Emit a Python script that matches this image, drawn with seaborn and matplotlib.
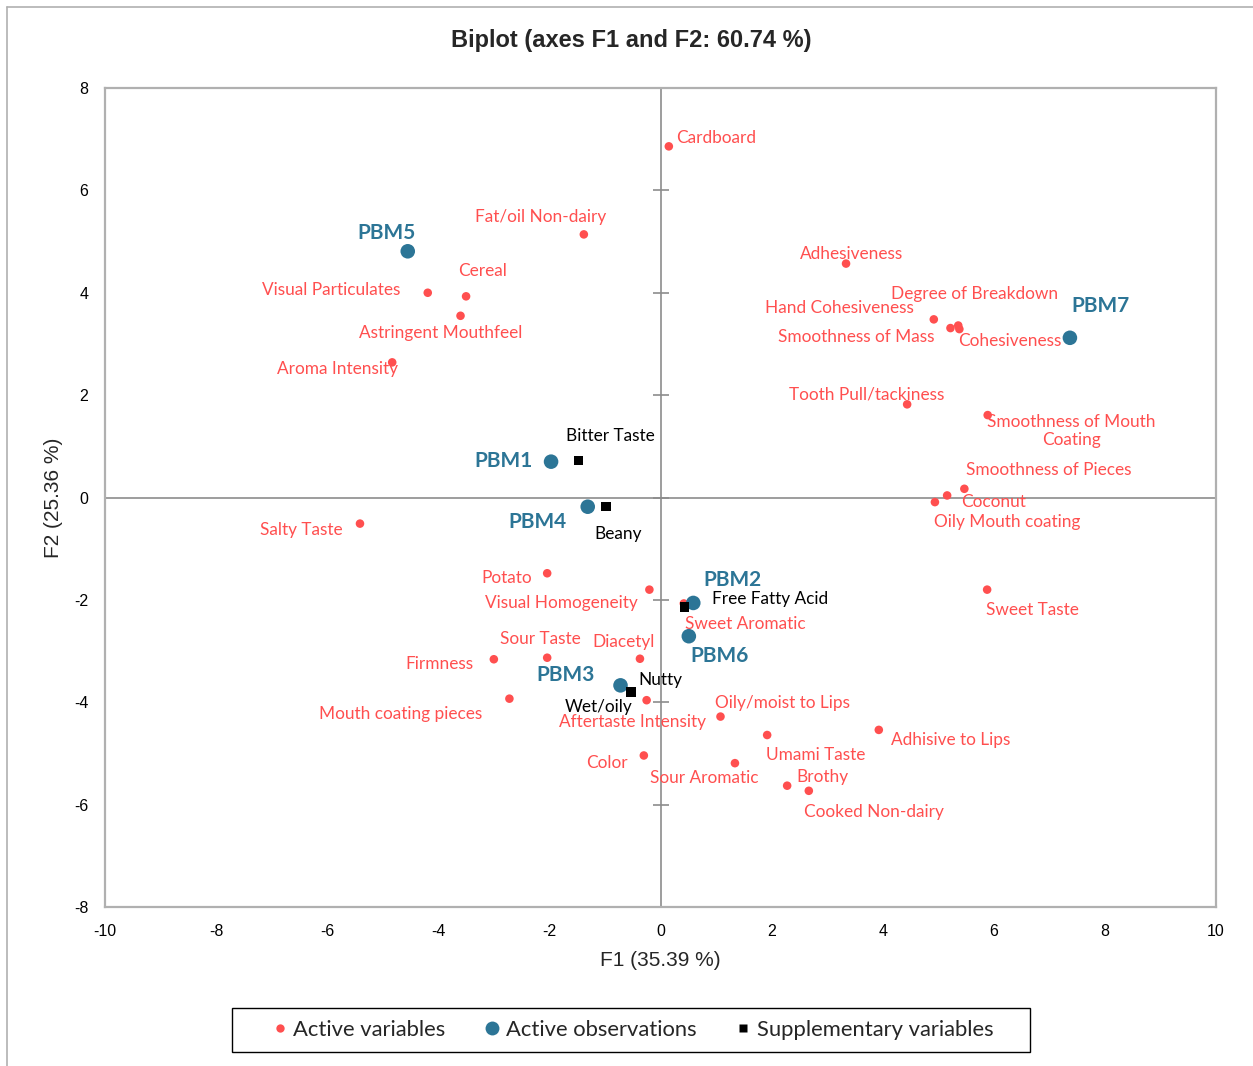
import matplotlib
matplotlib.use("Agg")
import matplotlib.pyplot as plt
from matplotlib.lines import Line2D
from matplotlib.patches import Rectangle
import seaborn as sns
import pandas as pd

# Active variables (F1, F2 coordinates)
var_names = [
    "Cardboard", "Fat/oil Non-dairy", "Visual Particulates", "Cereal",
    "Astringent Mouthfeel", "Aroma Intensity", "Adhesiveness",
    "Hand Cohesiveness", "Degree of Breakdown", "Smoothness of Mass",
    "Cohesiveness", "Tooth Pull/tackiness", "Smoothness of Mouth\nCoating",
    "Smoothness of Pieces", "Coconut", "Oily Mouth coating", "Salty Taste",
    "Potato", "Visual Homogeneity", "Sweet Aromatic", "Sour Taste",
    "Firmness", "Diacetyl", "Mouth coating pieces", "Aftertaste Intensity",
    "Color", "Oily/moist to Lips", "Umami Taste", "Adhisive to Lips",
    "Sour Aromatic", "Brothy", "Cooked Non-dairy", "Sweet Taste",
]
var_f1 = [0.15, -1.38, -4.19, -3.50, -3.60, -4.83, 3.34, 4.92, 5.36, 5.22,
          5.38, 4.44, 5.89, 5.47, 5.16, 4.94, -5.41, -2.04, -0.20, 0.42,
          -2.04, -3.00, -0.37, -2.72, -0.25, -0.30, 1.08, 1.92, 3.93, 1.34,
          2.28, 2.67, 5.88]
var_f2 = [6.86, 5.14, 4.00, 3.93, 3.55, 2.64, 4.57, 3.48, 3.36, 3.31,
          3.29, 1.82, 1.61, 0.17, 0.04, -0.09, -0.51, -1.48, -1.80, -2.07,
          -3.13, -3.16, -3.15, -3.93, -3.96, -5.04, -4.28, -4.64, -4.54,
          -5.19, -5.63, -5.73, -1.80]

# Active observations
obs_names = ["PBM1", "PBM2", "PBM3", "PBM4", "PBM5", "PBM6", "PBM7"]
obs_f1 = [-1.97, 0.59, -0.72, -1.31, -4.55, 0.51, 7.37]
obs_f2 = [0.70, -2.06, -3.67, -0.18, 4.81, -2.71, 3.12]

# Supplementary variables
sup_names = ["Bitter Taste", "Beany", "Free Fatty Acid", "Nutty", "Wet/oily"]
sup_f1 = [-1.47, -0.98, 0.43, -0.54, -0.53]
sup_f2 = [0.72, -0.18, -2.14, -3.79, -3.80]

# Axis ranges and ticks
x_ticks = [-10, -8, -6, -4, -2, 0, 2, 4, 6, 8, 10]
y_ticks = [-8, -6, -4, -2, 0, 2, 4, 6, 8]

# Label placement: pixel offsets (dx right, dy up) of the label centre from its point
label_offsets = {
    "Cardboard": (47, 8), "Fat/oil Non-dairy": (-43, 17),
    "Visual Particulates": (-97, 3), "Cereal": (16, 25),
    "Astringent Mouthfeel": (-20, -17), "Aroma Intensity": (-55, -7),
    "Adhesiveness": (6, 10), "Hand Cohesiveness": (-94, 11),
    "Degree of Breakdown": (16, 32), "Smoothness of Mass": (-94, -9),
    "Cohesiveness": (50, -12), "Tooth Pull/tackiness": (-40, 10),
    "Smoothness of Mouth\nCoating": (84, -16),
    "Smoothness of Pieces": (84, 19), "Coconut": (46, -7),
    "Oily Mouth coating": (72, -20), "Salty Taste": (-59, -6),
    "Potato": (-40, -5), "Visual Homogeneity": (-88, -13),
    "Sweet Aromatic": (61, -21), "Sour Taste": (-7, 19),
    "Firmness": (-54, -5), "Diacetyl": (-16, 17),
    "Mouth coating pieces": (-109, -15), "Aftertaste Intensity": (-14, -22),
    "Color": (-37, -8), "Oily/moist to Lips": (62, 14),
    "Umami Taste": (49, -20), "Adhisive to Lips": (72, -10),
    "Sour Aromatic": (-31, -15), "Brothy": (35, 9),
    "Cooked Non-dairy": (65, -21), "Sweet Taste": (45, -20),
    "PBM1": (-48, 1), "PBM2": (39, 23), "PBM3": (-55, 10), "PBM4": (-50, -15),
    "PBM5": (-21, 18), "PBM6": (31, -20), "PBM7": (31, 32),
    "Bitter Taste": (32, 25), "Beany": (12, -27), "Free Fatty Acid": (86, 8),
    "Nutty": (30, 12), "Wet/oily": (-32, -15),
}

RED = "#FF4F4F"
BLUE = "#2C7596"
BLACK = "#000000"
FRAME_GRAY = "#B0B0B0"
ZERO_GRAY = "#8C8C8C"

sns.set_style("white")
plt.rcParams["font.family"] = ["Liberation Sans", "DejaVu Sans"]
plt.rcParams["axes.unicode_minus"] = False
LABEL_FONT = ["Lato", "DejaVu Sans"]

W, H = 1253, 1066
fig = plt.figure(figsize=(W / 100, H / 100), dpi=100)
ax = fig.add_axes([105 / W, 1 - 907 / H, (1216 - 105) / W, (907 - 88) / H])

df_var = pd.DataFrame({"F1": var_f1, "F2": var_f2, "name": var_names})
df_obs = pd.DataFrame({"F1": obs_f1, "F2": obs_f2, "name": obs_names})
df_sup = pd.DataFrame({"F1": sup_f1, "F2": sup_f2, "name": sup_names})

# Zero reference lines; the vertical one carries tick marks
ax.axhline(0, color=ZERO_GRAY, lw=1.2, zorder=1)
ax.axvline(0, color=ZERO_GRAY, lw=1.2, zorder=1)
ax.plot([0] * len(y_ticks), y_ticks, ls="none", marker="_", ms=12,
        mew=1.2, color=ZERO_GRAY, zorder=1)

sns.scatterplot(data=df_var, x="F1", y="F2", ax=ax, color=RED, s=38,
                marker="o", edgecolor="none", legend=False, zorder=3)
sns.scatterplot(data=df_obs, x="F1", y="F2", ax=ax, color=BLUE, s=110,
                marker="o", edgecolor="none", legend=False, zorder=4)
sns.scatterplot(data=df_sup, x="F1", y="F2", ax=ax, color=BLACK, s=44,
                marker="s", edgecolor="none", legend=False, zorder=5)


def put_labels(frame, color, size, weight):
    for _, row in frame.iterrows():
        dx, dy = label_offsets[row["name"]]
        ax.annotate(row["name"], (row["F1"], row["F2"]), xytext=(dx, dy),
                    textcoords="offset pixels", ha="center", va="center",
                    color=color, fontsize=size, fontweight=weight,
                    family=LABEL_FONT, linespacing=1.2, zorder=6)


put_labels(df_var, RED, 12.4, "normal")
put_labels(df_obs, BLUE, 15, "bold")
put_labels(df_sup, BLACK, 12.4, "normal")

ax.set_xlim(x_ticks[0], x_ticks[-1])
ax.set_ylim(y_ticks[0], y_ticks[-1])
ax.set_xticks(x_ticks)
ax.set_yticks(y_ticks)
ax.tick_params(axis="both", length=0, labelsize=11.5, pad=12, colors="#000000")
for sp in ax.spines.values():
    sp.set_color(FRAME_GRAY)
    sp.set_linewidth(1.6)

ax.set_xlabel("F1 (35.39 %)", fontsize=15, labelpad=9)
ax.set_ylabel("F2 (25.36 %)", fontsize=15, labelpad=8)

fig.text(631 / W, 1 - 41 / H, "Biplot (axes F1 and F2: 60.74 %)",
         ha="center", va="center", fontsize=17, fontweight="bold")

# Outer chart border (top and left edges)
fig.add_artist(Line2D([7 / W, 1.0], [1 - 7 / H] * 2, color=FRAME_GRAY, lw=1.2))
fig.add_artist(Line2D([7 / W] * 2, [0.0, 1 - 7 / H], color=FRAME_GRAY, lw=1.2))

# Legend box and entries
fig.add_artist(Rectangle((232 / W, 1 - 1052 / H), (1030 - 232) / W, 44 / H,
                         transform=fig.transFigure, fill=False,
                         edgecolor="#000000", lw=1.0))
handles = [
    Line2D([], [], ls="none", marker="o", ms=6, color=RED, mec="none"),
    Line2D([], [], ls="none", marker="o", ms=10, color=BLUE, mec="none"),
    Line2D([], [], ls="none", marker="s", ms=6, color=BLACK, mec="none"),
]
fig.legend(handles, ["Active variables", "Active observations",
                     "Supplementary variables"],
           loc="center", bbox_to_anchor=(631 / W, 1 - 1030 / H),
           ncol=3, frameon=False,
           prop={"family": LABEL_FONT, "size": 15.8},
           handletextpad=0.1, columnspacing=1.65, handlelength=1.0,
           borderpad=0.2, borderaxespad=0)

fig.savefig("out.png", dpi=100)
